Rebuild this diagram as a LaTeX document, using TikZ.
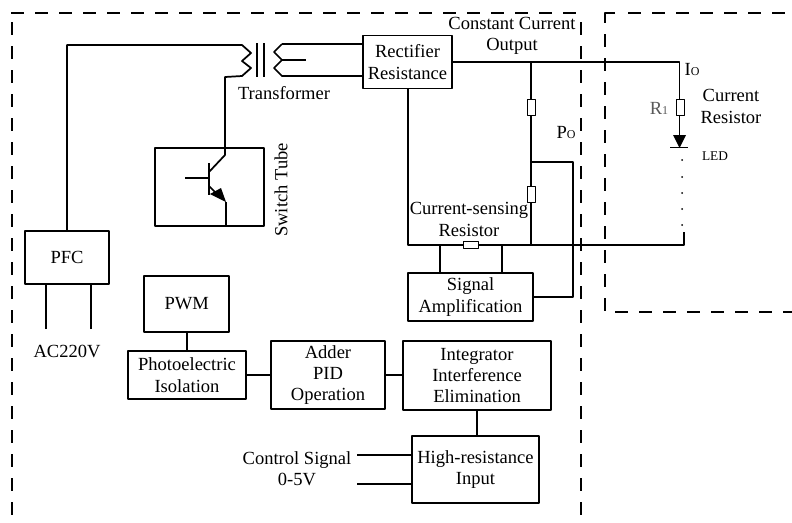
\documentclass[tikz,border=0pt]{standalone}
\usepackage{fontspec}
\setmainfont{Liberation Serif}
\usetikzlibrary{arrows.meta}
\tikzset{
	box/.style n args={2}{draw,inner sep=0pt,align=center,minimum width=#1*0.75pt,minimum height=#2*0.75pt},
	res/.style n args={2}{draw,line width=0.7pt,fill=white,inner sep=0pt,minimum width=#1*0.75pt,minimum height=#2*0.75pt},
	lab/.style={inner sep=0pt,align=center},
	sep/.style={line width=1.5pt,dash pattern=on 9.4pt off 8.6pt}
}
\begin{document}
\begin{tikzpicture}[line join=round,x=0.75pt,y=-0.75pt,line width=1.3pt,
	every node/.style={font=\fontsize{13.9}{16}\selectfont}]
	\useasboundingbox (0,0) rectangle (792,522);
	% dashed frames
	\coordinate (tl) at (11,13);
	\coordinate (tm) at (578,13);
	\coordinate (ll) at (12,22);
	\coordinate (bl) at (12,522);
	\coordinate (mt) at (581,22);
	\coordinate (mb) at (581,522);
	\coordinate (rc) at (605,13);
	\coordinate (rt) at (605,34);
	\coordinate (rb) at (605,311);
	\coordinate (tr) at (628,13);
	\coordinate (te) at (792,13);
	\coordinate (bs) at (615,312);
	\coordinate (be) at (792,312);
	\draw[sep] (tl)--(tm);
	\draw[sep] (ll)--(bl);
	\draw[sep] (mt)--(mb);
	\draw[line width=1.5pt] (615,13)--(rc)--(605,23);
	\draw[sep] (rt)--(rb);
	\draw[sep] (tr)--(te);
	\draw[sep] (bs)--(be);
	% boxes
	\node[box={89}{53}] (rect) at (407.5,62) {Rectifier\\Resistance};
	\node[box={84}{53}] (pfc) at (67,257.5) {PFC};
	\node[box={85}{56}] (pwm) at (186.8,304) {PWM};
	\node[box={118}{48}] (photo) at (187,375) {Photoelectric\\Isolation};
	\node[box={114}{68}] (adder) at (328,375) {Adder\\PID\\Operation};
	\node[box={148}{69}] (integ) at (477,375.5) {Integrator\\Interference\\Elimination};
	\node[box={127}{67}] (high) at (475.5,469.5) {High-resistance\\Input};
	\node[box={125}{48}] (amp) at (470.5,297) {Signal\\Amplification};
	\node[box={108.5}{78}] (tube) at (209.5,187) {};
	% labels
	\node[lab] (lcc) at (512,36) {Constant Current\\Output};
	\node[lab] (ltr) at (284,93) {Transformer};
	\node[lab] (lac) at (67,351) {AC220V};
	\node[lab] (lsw) at (281,190) [rotate=90] {Switch Tube};
	\node[lab] (lcs) at (469,219.5) {Current-sensing\\Resistor};
	\node[lab] (lcr) at (731,106.5) {Current\\Resistor};
	\node[lab] (lct) at (297,469) {Control Signal\\0-5V};
	\node[lab] (lio) at (692,69) {I{\fontsize{9}{9}\selectfont O}};
	\node[lab] (lpo) at (566,132) {P{\fontsize{9}{9}\selectfont O}};
	\node[lab,text=black!65] (lr1) at (659,108) {R{\fontsize{9}{9}\selectfont 1}};
	\node[lab,font=\fontsize{10}{10}\selectfont] (lled) at (715,156) {LED};
	% transformer
	\coordinate (p1) at (242,45);
	\coordinate (p2) at (242,76);
	\coordinate (s1) at (282,44);
	\coordinate (s2) at (282,60);
	\coordinate (s3) at (282,76);
	\coordinate (tap) at (306,60);
	\coordinate (core1) at (257,43);
	\coordinate (core2) at (264,43);
	\draw (core1)--++(0,34);
	\draw (core2)--++(0,34);
	\coordinate (pfcup) at (pfc.north |- p1);
	\draw (pfc.north)--(pfcup)--(p1)--(251,53)--(242,61)--(251,68)--(p2)--(225,77)--(225,155)--(209,172);
	\draw (s1)--(274,52)--(s2)--(274,68)--(s3)--(s3-|rect.west);
	\draw (s1)--(s1-|rect.west);
	\draw (s2)--(tap);
	% switch tube
	\coordinate (bar1) at (209,163);
	\coordinate (bar2) at (209,195);
	\coordinate (base) at (185,178);
	\coordinate (emit) at (226,202);
	\draw (bar1)--(bar2);
	\draw (base)--(base-|bar1);
	\draw (209,186)--(216,193);
	\fill (emit)--(210,194)--(221,188)--cycle;
	\draw (emit)--(emit|-tube.south);
	% pfc legs
	\foreach \x/\nm in {46/a,91/b}{
		\coordinate (leg\nm) at (\x,329);
		\draw (leg\nm)--(leg\nm|-pfc.south);
	}
	% lower chain
	\draw (pwm.south)--(pwm.south|-photo.north);
	\draw (photo.east)--(adder.west);
	\draw (adder.east)--(adder.east-|integ.west);
	\draw (integ.south)--(integ.south|-high.north);
	\foreach \y/\nm in {455/a,484/b}{
		\coordinate (ctl\nm) at (357,\y);
		\draw (ctl\nm)--(ctl\nm-|high.west);
	}
	% output side
	\coordinate (rail) at (531,62);
	\coordinate (corner) at (679.5,62);
	\coordinate (gndl) at (408,245);
	\coordinate (gndm) at (531,245);
	\coordinate (gndr) at (684,245);
	\coordinate (tap2) at (531,162);
	\coordinate (fb) at (573,162);
	\coordinate (fb2) at (573,297);
	\draw (rect.east)--(corner)--(679.5,135);
	\draw (rect.south-|gndl)--(gndl)--(gndr)--(684,232);
	\draw (rail)--(gndm);
	\draw (tap2)--(fb)--(fb2)--(amp.east);
	\foreach \x/\nm in {440/a,502/b}{
		\coordinate (sn\nm) at (\x,245);
		\draw (sn\nm)--(sn\nm|-amp.north);
	}
	\node[res={8}{16}] (r2) at (531,107) {};
	\node[res={8}{16}] (r3) at (531,194.5) {};
	\node[res={8}{16}] (r1) at (680,107) {};
	\node[res={15}{7}] (rs) at (470.5,245) {};
	% led
	\fill (673,135)--(686,135)--(679.5,148)--cycle;
	\coordinate (ledl) at (670,147.5);
	\coordinate (ledr) at (688,147.5);
	\draw (ledl)--(ledr);
	\foreach \y in {160,177,193,209,225}
		\fill (682,\y) circle (1);
\end{tikzpicture}
\end{document}
